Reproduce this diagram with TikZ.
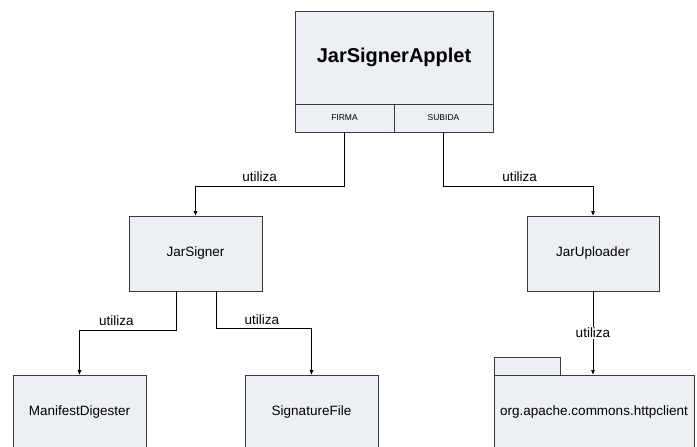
\documentclass[tikz,border=0pt]{standalone}
\usepackage{fontspec}
\setmainfont{Liberation Sans}
\usepackage{xcolor}
\usetikzlibrary{arrows.meta, positioning}
\definecolor{boxfill}{RGB}{236, 239, 244}
\definecolor{boxline}{RGB}{58, 58, 58}

\begin{document}
\begin{tikzpicture}[
    x=1pt, y=-1pt,
    classbox/.style={draw=boxline, fill=boxfill, line width=0.9pt, minimum width=133pt,
                     minimum height=75pt, inner sep=0pt,
                     font=\fontsize{13.5}{16}\selectfont},
    subbox/.style={draw=boxline, fill=boxfill, line width=0.9pt, minimum width=99pt,
                   minimum height=28pt, inner sep=0pt, font=\fontsize{8.5}{10}\selectfont},
    uses/.style={draw=black, line width=0.8pt, -{Triangle[length=4.5pt, width=3.5pt]}},
    lbl/.style={font=\fontsize{13.5}{16}\selectfont}
]
    \useasboundingbox (0,0) rectangle (697,447);
    \clip (0,0) rectangle (697,447);

    % ==================== APPLET ====================
    \node[classbox, minimum width=198pt, minimum height=93pt,
          font=\fontsize{20}{24}\selectfont\bfseries] (applet) at (394,57.5) {JarSignerApplet};
    \node[subbox] (firma) at (344.5,118) {FIRMA};
    \node[subbox] (subida) at (443.5,118) {SUBIDA};

    % ==================== SIGNING ====================
    \node[classbox] (jarsigner) at (195.5,253.5) {JarSigner};
    \node[classbox] (manifest) at (79.5,412.5) {ManifestDigester};
    \node[classbox] (sigfile) at (311.5,412.5) {SignatureFile};

    % ==================== UPLOAD ====================
    \node[classbox, minimum width=132pt] (uploader) at (593,253.5) {JarUploader};
    \node[classbox, minimum width=66pt, minimum height=18pt] (pkgtab) at (527,366) {};
    \node[classbox, minimum width=200pt] (httpclient) at (594,412.5) {org.apache.commons.httpclient};

    % ==================== RELATIONSHIPS ====================
    \draw[uses] (firma.south) -- ++(0,54)
        -| node[lbl, pos=0.285, above=1pt] {utiliza} (jarsigner.north);
    \draw[uses] (subida.south) -- ++(0,54)
        -| node[lbl, pos=0.255, above=1pt] {utiliza} (uploader.north);
    \draw[uses] ([xshift=-19pt]jarsigner.south) -- ++(0,39)
        -| node[lbl, pos=0.31, above=1pt] {utiliza} (manifest.north);
    \draw[uses] ([xshift=20.5pt]jarsigner.south) -- ++(0,37)
        -| node[lbl, pos=0.24, above=0pt] {utiliza} (sigfile.north);
    \draw[uses] (uploader.south) -- node[lbl, fill=white, inner sep=1pt] {utiliza}
        (uploader.south |- httpclient.north);
\end{tikzpicture}
\end{document}
